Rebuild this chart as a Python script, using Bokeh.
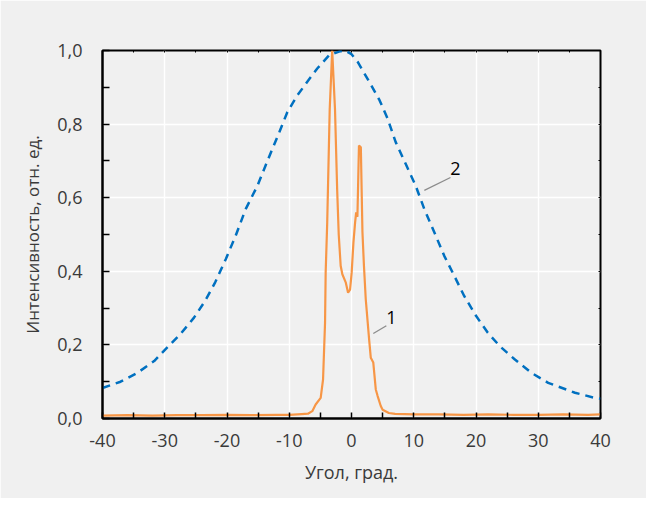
from bokeh.plotting import figure
from bokeh.models import FixedTicker, CustomJSTickFormatter, Label, LinearAxis
from bokeh.embed import file_html
from bokeh.resources import INLINE

# ---- data ----
# curve 1 (orange, solid)
x1 = [-40, -36, -32, -28, -24, -20, -16, -12, -10, -8, -7, -6.3, -5.76, -4.95, -4.57,
      -4.25, -4.15, -3.9, -3.5, -3.1, -2.65, -2.3, -2.05, -1.74, -1.47, -0.93, -0.55,
      -0.23, 0.03, 0.31, 0.58, 0.75, 0.95, 1.2, 1.5, 1.76, 2.0, 2.29, 2.83, 3.1, 3.5,
      3.9, 4.2, 4.7, 5.0, 6.0, 7.0, 10, 14, 18, 22, 26, 30, 34, 38, 40]
y1 = [0.008, 0.009, 0.008, 0.009, 0.009, 0.010, 0.009, 0.010, 0.010, 0.012, 0.013, 0.020,
      0.038, 0.056, 0.106, 0.26, 0.397, 0.533, 0.84, 1.0, 0.84, 0.62, 0.5, 0.415, 0.392,
      0.37, 0.342, 0.35, 0.397, 0.478, 0.533, 0.56, 0.548, 0.742, 0.737, 0.506, 0.415,
      0.324, 0.215, 0.165, 0.152, 0.079, 0.061, 0.034, 0.024, 0.015, 0.0125, 0.011, 0.011,
      0.010, 0.011, 0.010, 0.010, 0.011, 0.010, 0.011]

# curve 2 (blue, dashed)
x2 = [-40, -37.1, -34.4, -31.7, -29.9, -27.5, -25.3, -23.5, -21.9, -20.2, -18.6, -17.0,
      -15.1, -13.5, -11.6, -10.3, -8.7, -7.1, -5.5, -3.6, -2.0, -1.0, 0.0, 1.0, 2.85,
      4.5, 5.8, 7.1, 8.7, 10.3, 11.7, 13.3, 14.9, 16.5, 18.1, 20.0, 21.9, 23.8, 26.2,
      28.9, 31.6, 35.9, 39.1, 40]
y2 = [0.083, 0.10, 0.124, 0.156, 0.188, 0.229, 0.274, 0.32, 0.37, 0.433, 0.497, 0.569,
      0.633, 0.70, 0.778, 0.833, 0.878, 0.915, 0.951, 0.987, 0.997, 1.0, 0.99, 0.969,
      0.915, 0.865, 0.815, 0.751, 0.692, 0.633, 0.569, 0.506, 0.442, 0.388, 0.333,
      0.279, 0.233, 0.197, 0.161, 0.124, 0.097, 0.07, 0.056, 0.054]

x_ticks = [-40, -30, -20, -10, 0, 10, 20, 30, 40]
x_minor = [-35, -25, -15, -5, 5, 15, 25, 35]
y_ticks = [0.0, 0.2, 0.4, 0.6, 0.8, 1.0]
y_minor = [0.1, 0.3, 0.5, 0.7, 0.9]

x_title = "Угол, град."
y_title = "Интенсивность, отн. ед."
labels = ["1", "2"]

FONT = "Open Sans"
TXT = "#3a3a3a"
BG = "#f0f0f0"

p = figure(width=646, height=498, x_range=(-40, 40), y_range=(0, 1),
           output_backend="svg", toolbar_location=None,
           min_border_left=102, min_border_right=46, min_border_top=50,
           min_border_bottom=80,
           background_fill_color=BG, border_fill_color=BG,
           x_axis_label=x_title, y_axis_label=y_title)
p.outline_line_color = "black"
p.outline_line_width = 2

xt = FixedTicker(ticks=x_ticks, minor_ticks=x_minor)
yt = FixedTicker(ticks=y_ticks, minor_ticks=y_minor)

p.xaxis.ticker = xt
p.xaxis.formatter = CustomJSTickFormatter(code="return tick.toFixed(0);")
p.yaxis.ticker = yt
p.yaxis.formatter = CustomJSTickFormatter(code="return tick.toFixed(1).replace('.', ',');")

for ax in list(p.xaxis) + list(p.yaxis):
    ax.axis_line_color = "black"
    ax.axis_line_width = 2
    ax.major_tick_line_color = "black"
    ax.minor_tick_line_color = "black"
    ax.major_tick_line_width = 1.5
    ax.minor_tick_line_width = 1.5
    ax.major_tick_out = 0
    ax.minor_tick_out = 0
    ax.major_label_text_font = FONT
    ax.major_label_text_font_size = "18px"
    ax.major_label_text_color = TXT
    ax.axis_label_text_font = FONT
    ax.axis_label_text_font_style = "normal"
    ax.axis_label_text_color = TXT

p.xaxis.axis_label_text_font_size = "18px"
p.yaxis.axis_label_text_font_size = "17px"
p.xaxis.major_tick_in = 6
p.xaxis.minor_tick_in = 6
p.yaxis.major_tick_in = 7
p.yaxis.minor_tick_in = 7
p.xaxis.major_label_standoff = 15
p.xaxis.axis_label_standoff = 10
p.yaxis.major_label_standoff = 20
p.yaxis.axis_label_standoff = 10

# small frame ticks on the top and right edges
top = LinearAxis(ticker=xt, major_label_text_font_size="0px", axis_line_color=None,
                 major_tick_in=2, major_tick_out=0, minor_tick_in=2, minor_tick_out=0,
                 major_tick_line_color="black", minor_tick_line_color="black")
right = LinearAxis(ticker=yt, major_label_text_font_size="0px", axis_line_color=None,
                   major_tick_in=2, major_tick_out=0, minor_tick_in=2, minor_tick_out=0,
                   major_tick_line_color="black", minor_tick_line_color="black")
p.add_layout(top, "above")
p.add_layout(right, "right")

p.xgrid.ticker = xt
p.ygrid.ticker = yt
p.grid.grid_line_color = "white"
p.grid.grid_line_width = 1.5

p.line(x2, y2, line_color="#0070C0", line_width=2.5, line_dash="8 6")
p.line(x1, y1, line_color="#F79646", line_width=2.2)

# leader lines and labels
p.line([3.5, 5.6], [0.231, 0.252], line_color="#8c8c8c", line_width=1.3)
p.line([11.7, 15.9], [0.62, 0.655], line_color="#8c8c8c", line_width=1.3)
p.add_layout(Label(x=6.4, y=0.274, text=labels[0], text_font=FONT, text_font_size="18px",
                   text_color="black", text_align="center", text_baseline="middle"))
p.add_layout(Label(x=16.7, y=0.68, text=labels[1], text_font=FONT, text_font_size="18px",
                   text_color="black", text_align="center", text_baseline="middle"))

open("out.html", "w").write(file_html(p, INLINE))
